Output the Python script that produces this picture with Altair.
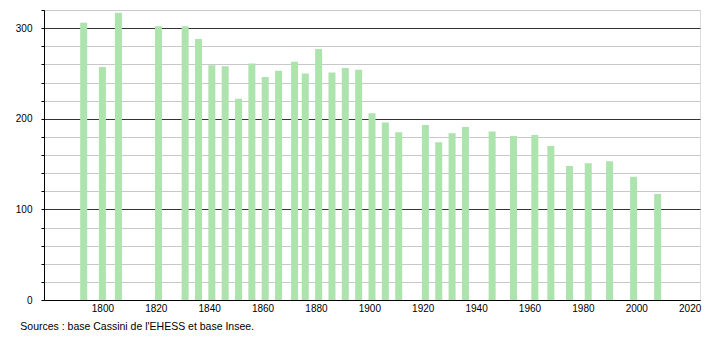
import altair as alt
import pandas as pd

years = [1793, 1800, 1806, 1821, 1831, 1836, 1841, 1846, 1851, 1856, 1861, 1866,
         1872, 1876, 1881, 1886, 1891, 1896, 1901, 1906, 1911, 1921, 1926, 1931,
         1936, 1946, 1954, 1962, 1968, 1975, 1982, 1990, 1999, 2008]
population = [306, 257, 317, 302, 302, 288, 259, 258, 222, 261, 246, 253,
              263, 250, 277, 251, 256, 254, 206, 196, 185, 193, 174, 184,
              191, 186, 181, 182, 170, 148, 151, 153, 136, 117]
x_ticks = list(range(1800, 2021, 20))
y_ticks = list(range(0, 321, 20))
source_text = "Sources : base Cassini de l'EHESS et base Insee."

df = pd.DataFrame({"year": years, "pop": population})

font = "Liberation Sans"

bars = alt.Chart(df).mark_bar(size=7, color="#ade3ad").encode(
    x=alt.X("year:Q",
            scale=alt.Scale(domain=[1780, 2022], nice=False, zero=False),
            axis=alt.Axis(values=x_ticks, format="d", title=None, ticks=False,
                          grid=False, domainColor="#000000", labelColor="#000000",
                          labelFont=font, labelFontSize=10, labelPadding=3,
                          labelFlush=False)),
    y=alt.Y("pop:Q",
            scale=alt.Scale(domain=[0, 320], nice=False),
            axis=alt.Axis(values=y_ticks, title=None,
                          labelExpr="datum.value % 100 === 0 ? datum.label : ''",
                          tickSize=3, tickColor="#000000", domainColor="#000000",
                          labelColor="#000000", labelFont=font, labelFontSize=10,
                          labelPadding=9, grid=True,
                          gridColor={"condition": {"test": "datum.value % 100 === 0",
                                                   "value": "#333333"},
                                     "value": "#c8c8c8"},
                          gridWidth=1)),
)

chart = bars.properties(
    width=656,
    height=290,
    title=alt.TitleParams(source_text, orient="bottom", anchor="start",
                          font=font, fontSize=10.5, fontWeight="normal",
                          color="#000000", offset=9, dx=5),
    autosize=alt.AutoSizeParams(type="none"),
    padding={"left": 44, "top": 10, "right": 10, "bottom": 40},
).configure_view(stroke=None).configure(background="white")

chart.save("out.html", embed_options={"renderer": "svg", "actions": False})
